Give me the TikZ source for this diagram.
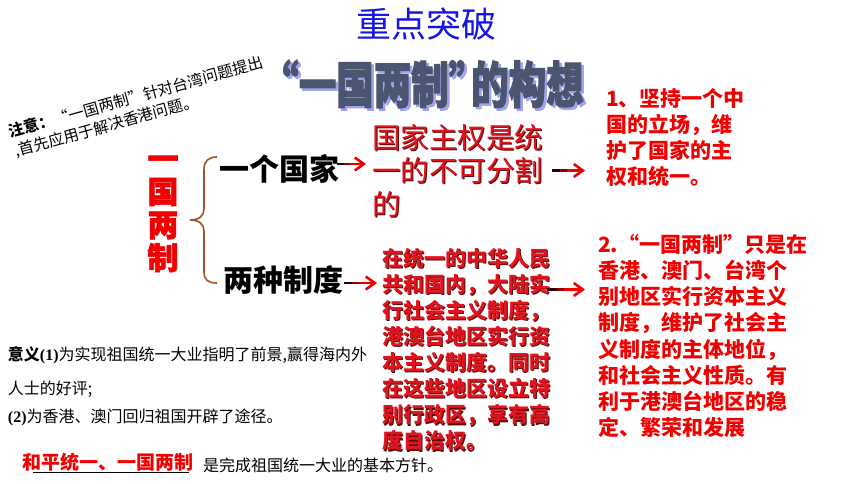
\documentclass[tikz,border=0pt]{standalone}
\usepackage{fontspec}
\usetikzlibrary{arrows.meta,calc}
\setmainfont{Noto Sans CJK SC}
\newfontfamily\titlefont[FakeStretch=0.75,FakeBold=2]{Noto Sans CJK SC}
\newfontfamily\heavyfont[FakeBold=1.8]{Noto Sans CJK SC}
\newfontfamily\serifnum{Liberation Serif}
\newcommand\fsz[2]{\fontsize{#1pt}{#2pt}\selectfont}
\definecolor{titlec}{HTML}{4A5670}
\definecolor{titlesh}{HTML}{A3A3F2}
\definecolor{bluec}{HTML}{1414E6}
\definecolor{redc}{HTML}{F00000}
\definecolor{midred}{HTML}{E0141E}
\definecolor{shadowc}{HTML}{5A0A0A}
\definecolor{bracec}{HTML}{A0522D}
\newcommand\mtonetext{国家主权是统\\一的不可分割\\的}
\newcommand\mttwotext{在统一的中华人民\\共和国内，大陆实\\行社会主义制度，\\港澳台地区实行资\\本主义制度。同时\\在这些地区设立特\\别行政区，享有高\\度自治权。}
\newcommand\titletext{\kern-0.5em“一国两制”\kern-0.3em 的构想}
\begin{document}
\begin{tikzpicture}[x=1pt,y=-1pt,
  every node/.style={inner sep=0pt,outer sep=0pt},
  zdstyle/.style={text=bluec,font=\fsz{35}{40}},
  titlestyle/.style={font=\titlefont\bfseries\fsz{50}{54}},
  vert/.style={text=redc,font=\heavyfont\bfseries\fsz{31}{33},align=center},
  branch/.style={text=black,font=\bfseries\fsz{30}{34}},
  midone/.style={align=left,font=\fsz{28.5}{33.5}},
  midtwo/.style={align=left,font=\bfseries\fsz{21}{26.1}},
  righttxt/.style={align=left,text=redc,font=\bfseries\fsz{21}{26.2}},
  smalltxt/.style={text=black,font=\fsz{16}{20}},
  notetxt/.style={text=black,font=\fsz{15.5}{19},rotate=15.5,anchor=west},
  arr/.style={draw=redc,line width=2.6pt,-{Straight Barb[length=9pt,width=13pt]}},
  darkpart/.style={draw=black!80!redc,line width=2.6pt},
  midpart/.style={draw=black!40!redc,line width=2.6pt},
  bracestyle/.style={draw=bracec,line width=1.6pt}]
\fill[white] (0,0) rectangle (860,484);
\useasboundingbox (0,0) rectangle (860,484);

% headings
\node[zdstyle] (zdtp) at (426,24) {重点突破};
\node[titlestyle,text=titlesh] (titlesh) at (437.5,86.5) {\titletext};
\node[titlestyle,text=titlec] (title) at (435,84) {\titletext};

% note
\node[notetxt] (note1) at (9,132) {{\bfseries 注意：}“一国两制”针对台湾问题提出};
\node[notetxt] (note2) at (15,152) {,首先应用于解决香港问题。};

% left structure
\node[vert] (yglz) at (163,214) {一\\国\\两\\制};
\draw[bracestyle] (217,157) .. controls (208,157) and (204,161) .. (204,170) -- (204,209)
  .. controls (204,216) and (199,220) .. (190,220)
  .. controls (199,220) and (204,224) .. (204,231) -- (204,272)
  .. controls (204,280) and (208,283) .. (217,283);
\node[branch] (yige) at (279,169) {一个国家};
\node[branch] (liang) at (283,280) {两种制度};

% middle texts
\node[midone,text=shadowc,anchor=west] (mt1s) at (373.2,171.7) {\mtonetext};
\node[midone,text=midred,anchor=west] (mt1) at (372,170.5) {\mtonetext};
\node[midtwo,text=shadowc,anchor=west] (mt2s) at (383.2,350.7) {\mttwotext};
\node[midtwo,text=midred,anchor=west] (mt2) at (382,349.5) {\mttwotext};

% right texts
\node[righttxt,anchor=west] (rt1) at (606,137.5) {1、坚持一个中\\国的立场，维\\护了国家的主\\权和统一。};
\node[righttxt,anchor=west] (rt2) at (598,336) {2.“一国两制”只是在\\香港、澳门、台湾个\\别地区实行资本主义\\制度，维护了社会主\\义制度的主体地位，\\和社会主义性质。有\\利于港澳台地区的稳\\定、繁荣和发展};

% arrows
\coordinate (a1s) at ($(yige.east)+(-2,-5)$);
\coordinate (a1e) at ($(a1s -| mt1.west)+(-6,0)$);
\coordinate (a2s) at ($(mt1.east)+(9,0)$);
\coordinate (a2e) at ($(mt1.east -| rt1.west)+(-21,0)$);
\coordinate (a3s) at ($(liang.east)+(1,3)$);
\coordinate (a3e) at ($(a3s -| mt2.west)+(-5,0)$);
\coordinate (a4s) at ($(mt2.east)+(-3,-60)$);
\coordinate (a4e) at ($(a4s -| rt2.west)+(-13,0)$);
\foreach \s/\e in {a1s/a1e,a2s/a2e,a3s/a3e,a4s/a4e}{
  \draw[arr] (\s) -- (\e);
  \draw[darkpart] (\s) -- ($(\s)!0.25!(\e)$);
  \draw[midpart] ($(\s)!0.25!(\e)$) -- ($(\s)!0.45!(\e)$);
}

% bottom left
\node[smalltxt,anchor=west] (yy1) at (8,355) {{\bfseries 意义}{\serifnum\bfseries(1)}为实现祖国统一大业指明了前景,赢得海内外};
\node[smalltxt,anchor=west] (yy2) at (8,389) {人士的好评;};
\node[smalltxt,anchor=west] (yy3) at (8,417) {{\serifnum\bfseries(2)}为香港、澳门回归祖国开辟了途径。};
\node[text=redc,font=\bfseries\fsz{19}{22}] (heping) at (108,462) {和平统一、一国两制};
\draw[black,line width=0.6pt] ($(heping.west)+(10,10)$) -- ($(heping.east)+(-5,10)$);
\node[smalltxt,anchor=west] (fangzhen) at (203,465) {是完成祖国统一大业的基本方针。};
\end{tikzpicture}
\end{document}
